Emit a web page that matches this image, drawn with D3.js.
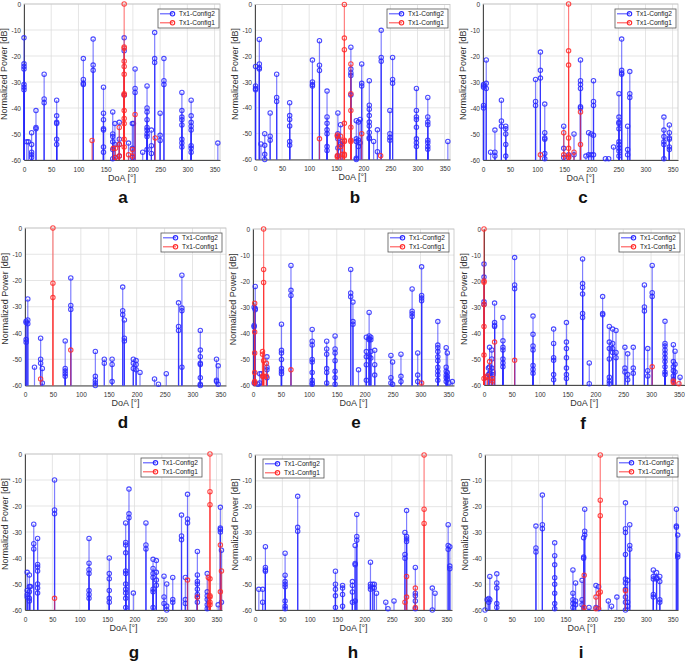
<!DOCTYPE html>
<html><head><meta charset="utf-8">
<script src="https://cdn.jsdelivr.net/npm/d3@7"></script>
<style>
html,body{margin:0;padding:0;background:#fff;}
svg{display:block;}
text{font-family:"Liberation Sans",Arial,sans-serif;}
</style></head>
<body>
<svg id="chart" width="685" height="661"></svg>
<script>
// ---------- data ----------
const panelLetters = ["a","b","c","d","e","f","g","h","i"];
const seriesNames = ["Tx1-Config2","Tx1-Config1"];
const xTicks = [0,50,100,150,200,250,300,350];
const yTicks = [0,-10,-20,-30,-40,-50,-60];
const xLabel = "DoA [°]";
const yLabel = "Normalized Power [dB]";

// each entry: [DoA (deg), [normalized powers (dB) of the paths at that DoA]]
const aConfig2 = [[0,[-13,-23,-24,-25,-31,-32,-33]],[5,[-53]],[8,[-53]],[14,[-49.5,-54,-57,-58,-59]],[22,[-41,-47.5,-48]],[37,[-27,-36.5,-38]],[60,[-37,-43,-45.5,-46,-52,-54]],[109,[-21,-29,-30.5,-31]],[127,[-13.5,-23.5,-25.5]],[146,[-32,-42,-44.5,-48,-48.5,-55,-57]],[163,[-41.5,-50,-51,-53,-56,-59.5]],[167,[-46,-54,-59]],[175,[-45.5,-52,-54,-58.5]],[184,[-13,-18,-35]],[192,[-53.5]],[199,[-46,-55.5,-59]],[201,[-46]],[204,[-25,-32.5,-34]],[218,[-57]],[226,[-31.5,-40,-41.5,-44.5,-47.5,-48.5,-50,-51,-56]],[234,[-48.5,-54.5,-57.5]],[240,[-11,-21,-22.5]],[250,[-42,-50.5,-52.5]],[257,[-21,-29.5,-31]],[290,[-34,-41,-43.5,-44.5,-46.5,-52,-53.5,-55]],[307,[-37,-43,-45.5,-47,-48.5,-54.5,-55.5,-57]],[356,[-53.5]]];
const aConfig1 = [[125,[-52.5]],[164,[-55.5]],[168,[-55.5,-59]],[175,[-47.5,-54,-58.5]],[184,[0,-16.5,-17,-22,-24,-27,-34.5,-35,-41,-44,-46,-52,-55]],[192,[-58]],[199,[-56,-58.5]],[204,[-42.5]],[241,[-51.5]]];

const bConfig2 = [[1,[-24,-31.5,-32.5,-33]],[8,[-13.5,-23,-24.5,-25]],[11,[-54]],[18,[-50,-54.5,-58,-60]],[28,[-42,-51,-52.5]],[40,[-27,-36,-37.5]],[64,[-38,-43,-44.5,-47,-53,-54.5]],[106,[-21.5,-30,-31,-31.5]],[119,[-14,-23.5,-25.5]],[133,[-33.5,-43.5,-46,-48.5,-50,-55,-56.5]],[153,[-42,-50,-51,-52,-55.5,-58.5]],[158,[-46.5,-54]],[161,[-53,-54]],[177,[-16.5,-25,-26.5,-27.5,-35]],[187,[-45,-52,-53,-59.5,-60]],[191,[-45.5,-52.5,-55]],[194,[-44.5,-53.5]],[197,[-23,-30.5,-31.5]],[211,[-29.5,-39,-40.5,-43,-45.5,-47,-49.5,-51.5,-52]],[219,[-53]],[226,[-48.5,-57]],[233,[-10,-20.5,-22]],[249,[-41,-50,-51.5,-52.5]],[254,[-20.5,-29,-30.5]],[298,[-32.5,-41,-43.5,-44.5,-47.5,-52,-53.5,-55]],[319,[-36,-43.5,-45.5,-46.5,-52.5,-53.5,-55,-56]],[356,[-53]]];
const bConfig1 = [[119,[-52]],[152,[-50.5,-51,-58.5,-59]],[158,[-51,-55]],[161,[-58]],[165,[0,-13,-17.5,-46,-52.5,-53,-58,-58.5]],[177,[-23,-34.5,-41,-47.5,-52.5,-53]],[197,[-50]],[232,[-58.5]]];

const cConfig2 = [[1,[-31,-31.5,-32,-39,-40]],[6,[-21.5,-30.5,-32.5]],[14,[-57]],[22,[-48.5,-57,-58.5]],[34,[-37,-45,-47]],[42,[-47,-48,-50,-54,-58.5]],[97,[-29,-37.5,-39]],[106,[-18.5,-25.5,-28.5]],[114,[-38.5,-49.5,-51.5,-52,-57.5,-59.5]],[149,[-47,-55.5,-59]],[158,[-58,-59]],[168,[-50,-58]],[180,[-21.5,-29.5,-31,-32.5,-39.5,-40]],[190,[-58.5]],[195,[-49.5,-58]],[200,[-50,-58]],[204,[-29.5,-37.5,-39,-50.5,-58]],[226,[-59.5]],[232,[-59.5]],[241,[-55]],[251,[-34.5,-43.5,-45.5,-46,-48,-53,-54,-55.5,-56.5,-58.5]],[256,[-13.5,-25.5,-26.5,-27]],[267,[-47,-56,-58]],[271,[-26,-34.5,-36]],[334,[-43.5,-48.5,-51,-53,-54,-59.5]],[344,[-46.5,-49.5,-51.5,-52,-55,-56]]];
const cConfig1 = [[106,[-58]],[149,[-49.5,-58]],[158,[0,-18,-23.5,-51.5,-55.5,-58.5,-59]],[168,[-57]],[180,[-41.5,-54]]];

const dConfig2 = [[2,[-35.5,-36,-42.5,-43.5]],[5,[-27,-35,-36.5]],[17,[-53]],[28,[-42,-50,-51.5]],[31,[-53.5,-59]],[72,[-43,-53.5,-54.5,-55.5,-56.5]],[82,[-19,-29.5,-31]],[126,[-47,-56.5,-58,-59,-60]],[142,[-50,-51.5]],[156,[-50,-52,-58.5]],[175,[-22.5,-31.5,-33]],[178,[-35,-42,-43]],[194,[-50,-51.5,-53.5]],[199,[-50.5,-52,-54]],[206,[-55]],[232,[-57.5]],[239,[-59.5]],[253,[-55.5]],[275,[-28.5,-37.5,-39]],[281,[-18,-30.5,-31.5,-53]],[314,[-39,-46.5,-49,-51.5,-52,-57,-59.5,-60]],[343,[-50,-58,-58.5]],[346,[-52.5,-59.5]]];
const dConfig1 = [[28,[-57.5]],[50,[0,-21,-26.5]],[82,[-46.5]]];

const eConfig2 = [[2,[-30,-37,-37.5,-59]],[4,[-22,-30.5,-31]],[9,[-59.5]],[12,[-55.5,-59]],[15,[-55.5]],[25,[-49,-53,-54,-57]],[51,[-36.5,-46.5,-47.5,-50,-53.5,-54.5,-55.5]],[68,[-14,-23.5,-25.5]],[106,[-38.5,-43,-44.5,-50,-51,-55,-58,-59,-59.5]],[132,[-43,-46,-48,-53.5,-55,-59]],[147,[-41,-46,-47.5,-50.5,-54.5,-57,-59.5]],[175,[-15.5,-24.5,-26]],[179,[-28,-35.5,-36.5]],[189,[-54]],[203,[-41.5,-47,-49,-52,-58]],[208,[-32,-41,-42,-42.5,-49]],[211,[-41.5,-42.5,-47,-49.5]],[218,[-46.5,-52,-56]],[247,[-48.5,-57,-59]],[250,[-51,-59.5]],[265,[-48,-56.5,-58.5]],[285,[-23,-31.5,-32.5,-33.5]],[295,[-47.5,-56,-58.5]],[302,[-14.5,-25.5,-26.5,-27.5]],[331,[-35.5,-44.5,-45.5,-47,-49,-50.5,-53,-54.5,-56,-58]],[346,[-45.5,-53,-54.5,-56,-57,-58.5]],[348,[-47.5,-55,-56.5,-57.5]],[351,[-59]],[357,[-58.5]]];
const eConfig1 = [[3,[-28.5,-39.5,-47.5,-55,-58.5,-59]],[17,[-47,-48,-56.5]],[19,[0,-15.5,-20.5,-50.5,-56.5]],[24,[-51.5,-56.5]],[68,[-54]],[302,[-59]]];

const fConfig2 = [[0,[-13.5,-18.5,-28,-29]],[3,[-57]],[8,[-53.5,-56]],[10,[-45.5,-53,-55.5]],[14,[-46.5,-50,-53.5]],[16,[-55,-56]],[19,[-28.5,-36,-37,-37.5]],[34,[-34,-43,-45.5,-46.5,-50,-51.5,-53]],[55,[-11,-21.5,-23]],[88,[-33.5,-40.5,-45,-46.5,-52.5,-54,-55.5]],[125,[-38.5,-44,-49.5,-50.5,-56,-58]],[148,[-36,-43.5,-46,-49.5,-53.5,-56,-57.5]],[177,[-11.5,-21,-22.5,-25,-32.5,-34]],[189,[-51.5,-59.5]],[213,[-26,-32.5,-33]],[225,[-37.5,-43.5,-46,-50,-57,-58.5,-59.5]],[231,[-38.5,-44,-46,-47.5]],[237,[-39,-47.5,-49.5]],[253,[-45.5,-53.5,-55]],[258,[-48,-56,-58]],[268,[-45.5,-53.5,-55.5]],[288,[-21.5,-30,-31.5]],[294,[-46,-54.5,-56.5]],[302,[-14,-24.5,-26]],[325,[-35.5,-44,-45,-46.5,-48,-49.5,-51,-53,-55,-56]],[340,[-44.5,-51,-53,-54.5,-56.5,-58]],[343,[-47,-52,-55]],[352,[-57]]];
const fConfig1 = [[0,[0,-20,-20.5,-29,-37.5,-48.5,-57.5]],[6,[-56.5,-57]],[10,[-51]],[15,[-57.5,-58.5]],[19,[-43.5]],[55,[-50.5]],[302,[-53]],[340,[-58.5,-59]],[350,[-59.5]]];

const gConfig2 = [[4,[-45.5,-52.5,-54,-55]],[8,[-46.5,-51,-53,-55.5,-56.5]],[10,[-51]],[16,[-27,-34.5,-36.5]],[23,[-32.5,-42.5,-43.5,-45,-50,-51.5,-53.5]],[54,[-10,-21.5,-23]],[117,[-32.5,-42,-44.5,-46,-52.5,-54,-55.5]],[154,[-40,-46,-48,-52.5,-55.5,-57]],[184,[-26.5,-34,-35,-38,-45,-46,-50,-52,-53.5,-55.5,-59]],[190,[-13.5,-23,-24.5]],[198,[-53.5]],[221,[-26.5,-35,-36.5]],[234,[-40.5,-44,-46,-47.5,-52,-53,-59]],[240,[-41,-45.5,-48.5,-50.5]],[254,[-47,-55,-57.5]],[259,[-50,-58.5,-60]],[270,[-47.5,-56,-57]],[286,[-23.5,-31.5,-33]],[293,[-47.5,-56,-57.5]],[297,[-15.5,-25,-26.5]],[315,[-37.5,-46.5,-49,-50,-52,-54,-55,-57]],[333,[-46,-53,-54.5,-56,-58,-59.5]],[353,[-58]],[357,[-20.5,-28.5,-29,-30]],[359,[-37,-57]]];
const gConfig1 = [[54,[-55.5]],[297,[-48.5]],[315,[-55]],[335,[-47.5]],[338,[0,-14.5,-19.5,-48,-54.5,-55,-57,-58]],[357,[-35,-53]],[359,[-45]]];

const hConfig2 = [[7,[-52]],[14,[-52,-57]],[19,[-35.5,-43.5,-44.5,-45]],[55,[-38,-46.5,-49,-50,-51,-56.5,-58.5,-59.5]],[78,[-16,-28,-29.5]],[147,[-45,-50,-52,-54.5,-59]],[160,[-50.5,-51.5,-54,-58.5]],[178,[-49,-50.5,-53,-57]],[183,[-35,-42,-42.5,-56.5]],[186,[-23,-31.5,-33]],[211,[-41.5,-50,-51,-52]],[215,[-50,-51.5]],[218,[-50,-51.5]],[222,[-53.5]],[239,[-57]],[243,[-59.5]],[254,[-56.5]],[274,[-30,-38.5,-40]],[277,[-21.5,-31.5,-32.5,-33.5]],[293,[-43.5,-53.5,-54.5,-56.5,-59.5]],[324,[-51.5,-60]],[329,[-53.5]],[353,[-27,-35,-36.5]],[356,[-35.5,-43,-44]]];
const hConfig1 = [[274,[-57]],[277,[-47,-55]],[293,[-51.5,-59]],[309,[0,-21,-26.5]]];

const iConfig2 = [[0,[-60]],[4,[-56]],[7,[-55.5,-57]],[9,[-47,-56]],[22,[-46,-49.5,-51.5,-57.5,-59]],[95,[-27.5,-36,-37.5]],[107,[-15.5,-27,-28.5]],[130,[-34,-39,-42.5,-47.5,-50,-53.5,-57.5,-59.5]],[164,[-44.5,-53.5,-56,-57.5,-59]],[169,[-49.5,-56.5,-58]],[181,[-48.5,-56,-58]],[184,[-32,-39.5,-40]],[186,[-21,-29.5,-31]],[194,[-59]],[207,[-50.5,-59]],[212,[-51,-59.5]],[230,[-56.5]],[236,[-58.5]],[246,[-55]],[262,[-18.5,-28.5,-30,-38.5,-48,-49.5,-52,-55,-57,-60]],[266,[-48.5,-57,-58.5]],[270,[-27,-35,-36.5]],[314,[-44.5,-47,-48,-54,-55]],[320,[-45.5,-47.5,-48]],[326,[-47,-49,-56,-57]],[357,[-21,-27.5,-28]],[359.5,[-31,-38.5,-39.5]]];
const iConfig1 = [[185,[-46.5,-59]],[207,[-55,-59.5]],[212,[-53.5]],[215,[0,-17.5,-23.5,-53]],[262,[-52.5]]];

const config2Sets = [aConfig2,bConfig2,cConfig2,dConfig2,eConfig2,fConfig2,gConfig2,hConfig2,iConfig2];
const config1Sets = [aConfig1,bConfig1,cConfig1,dConfig1,eConfig1,fConfig1,gConfig1,hConfig1,iConfig1];

// ---------- layout (pixels) ----------
const layout = [
  {l:24,  r:220, t:4,   b:160, lx:158, ly:9,   tx:123, ty:203},
  {l:255, r:450, t:4.5, b:159.5, lx:387, ly:9, tx:355, ty:203},
  {l:483, r:678, t:4,   b:160, lx:615, ly:9,   tx:583, ty:203},
  {l:25,  r:226, t:228, b:385.5, lx:161, ly:233, tx:123, ty:428},
  {l:253, r:454, t:229, b:385.5, lx:388, ly:233, tx:356, ty:428},
  {l:484, r:684.5, t:229, b:385, lx:619, ly:233, tx:583, ty:429},
  {l:25,  r:222, t:454, b:610, lx:141, ly:458, tx:134, ty:658},
  {l:255, r:452, t:455, b:610, lx:263, ly:459, tx:353, ty:658},
  {l:485, r:678, t:455, b:610, lx:617, ly:458, tx:581, ty:658}
];
const legW = 61, legH = 19;
const blue = "#2a2aff", red = "#ff2a2a";

const svg = d3.select("#chart");

panelLetters.forEach((letter, k) => {
  const L = layout[k];
  const xs = d3.scaleLinear().domain([0,360]).range([L.l, L.r]);
  const ys = d3.scaleLinear().domain([-60,0]).range([L.b, L.t]);
  const g = svg.append("g");

  // grid
  g.append("g").selectAll("line").data(xTicks).join("line")
    .attr("x1", d=>xs(d)).attr("x2", d=>xs(d)).attr("y1", L.t).attr("y2", L.b)
    .attr("stroke", "#dedede").attr("stroke-width", 0.8);
  g.append("g").selectAll("line").data(yTicks).join("line")
    .attr("x1", L.l).attr("x2", L.r).attr("y1", d=>ys(d)).attr("y2", d=>ys(d))
    .attr("stroke", "#dedede").attr("stroke-width", 0.8);
  // box
  g.append("rect").attr("x", L.l).attr("y", L.t).attr("width", L.r-L.l).attr("height", L.b-L.t)
    .attr("fill","none").attr("stroke","#c4c4c4").attr("stroke-width",0.8);

  // axes
  const xAxis = d3.axisBottom(xs).tickValues(xTicks).tickSize(0).tickPadding(7).tickFormat(d=>String(d));
  const yAxis = d3.axisLeft(ys).tickValues(yTicks).tickSize(0).tickPadding(3).tickFormat(d=>String(d));
  const gx = g.append("g").attr("transform", `translate(0,${L.b})`).call(xAxis);
  const gy = g.append("g").attr("transform", `translate(${L.l},0)`).call(yAxis);
  [gx, gy].forEach(a => {
    a.select(".domain").attr("stroke", "#3a3a3a").attr("stroke-width", 0.9);
    a.selectAll("text").attr("font-size", 6.5).attr("fill", "#333").attr("font-family", '"Liberation Sans",Arial,sans-serif');
  });

  // stems
  const drawSeries = (groups, color) => {
    const pts = groups.flatMap(([x, vals]) => vals.map(v => ({x, v})));
    const sg = g.append("g");
    sg.selectAll("line").data(pts).join("line")
      .attr("x1", d=>xs(d.x)).attr("x2", d=>xs(d.x))
      .attr("y1", ys(-60)).attr("y2", d=>ys(d.v))
      .attr("stroke", color).attr("stroke-opacity", 0.6).attr("stroke-width", 1.2);
    sg.selectAll("circle").data(pts).join("circle")
      .attr("cx", d=>xs(d.x)).attr("cy", d=>ys(d.v)).attr("r", 2.2)
      .attr("fill", "none").attr("stroke", color).attr("stroke-opacity", 0.85).attr("stroke-width", 1.1);
  };
  drawSeries(config2Sets[k], blue);
  drawSeries(config1Sets[k], red);

  // labels
  g.append("text").attr("x", (L.l+L.r)/2).attr("y", L.b+20.5)
    .attr("text-anchor","middle").attr("font-size", 9).attr("fill","#333").text(xLabel);
  g.append("text").attr("transform", `translate(${L.l-17},${(L.t+L.b)/2 - 8}) rotate(-90)`)
    .attr("text-anchor","middle").attr("font-size", 9).attr("fill","#333").text(yLabel);

  // legend
  const lg = g.append("g").attr("transform", `translate(${L.lx},${L.ly})`);
  lg.append("rect").attr("width", legW).attr("height", legH).attr("fill","#fff")
    .attr("stroke","#555").attr("stroke-width",0.8);
  [blue, red].forEach((c, j) => {
    const yy = 4.8 + j*9;
    lg.append("line").attr("x1", 2).attr("x2", 15).attr("y1", yy).attr("y2", yy)
      .attr("stroke", c).attr("stroke-opacity",0.8).attr("stroke-width", 1.1);
    lg.append("circle").attr("cx", 14.5).attr("cy", yy).attr("r", 2.2)
      .attr("fill","none").attr("stroke", c).attr("stroke-width", 1.1);
    lg.append("text").attr("x", 21).attr("y", yy).attr("dy","0.35em")
      .attr("font-size", 6.6).attr("fill","#222").text(seriesNames[j]);
  });

  // panel letter
  svg.append("text").attr("x", L.tx).attr("y", L.ty).attr("text-anchor","middle")
    .attr("font-family",'"Liberation Serif","Times New Roman",serif').attr("font-weight","bold")
    .attr("font-size", 17).attr("fill","#111").text(letter);
});
</script>
</body></html>
